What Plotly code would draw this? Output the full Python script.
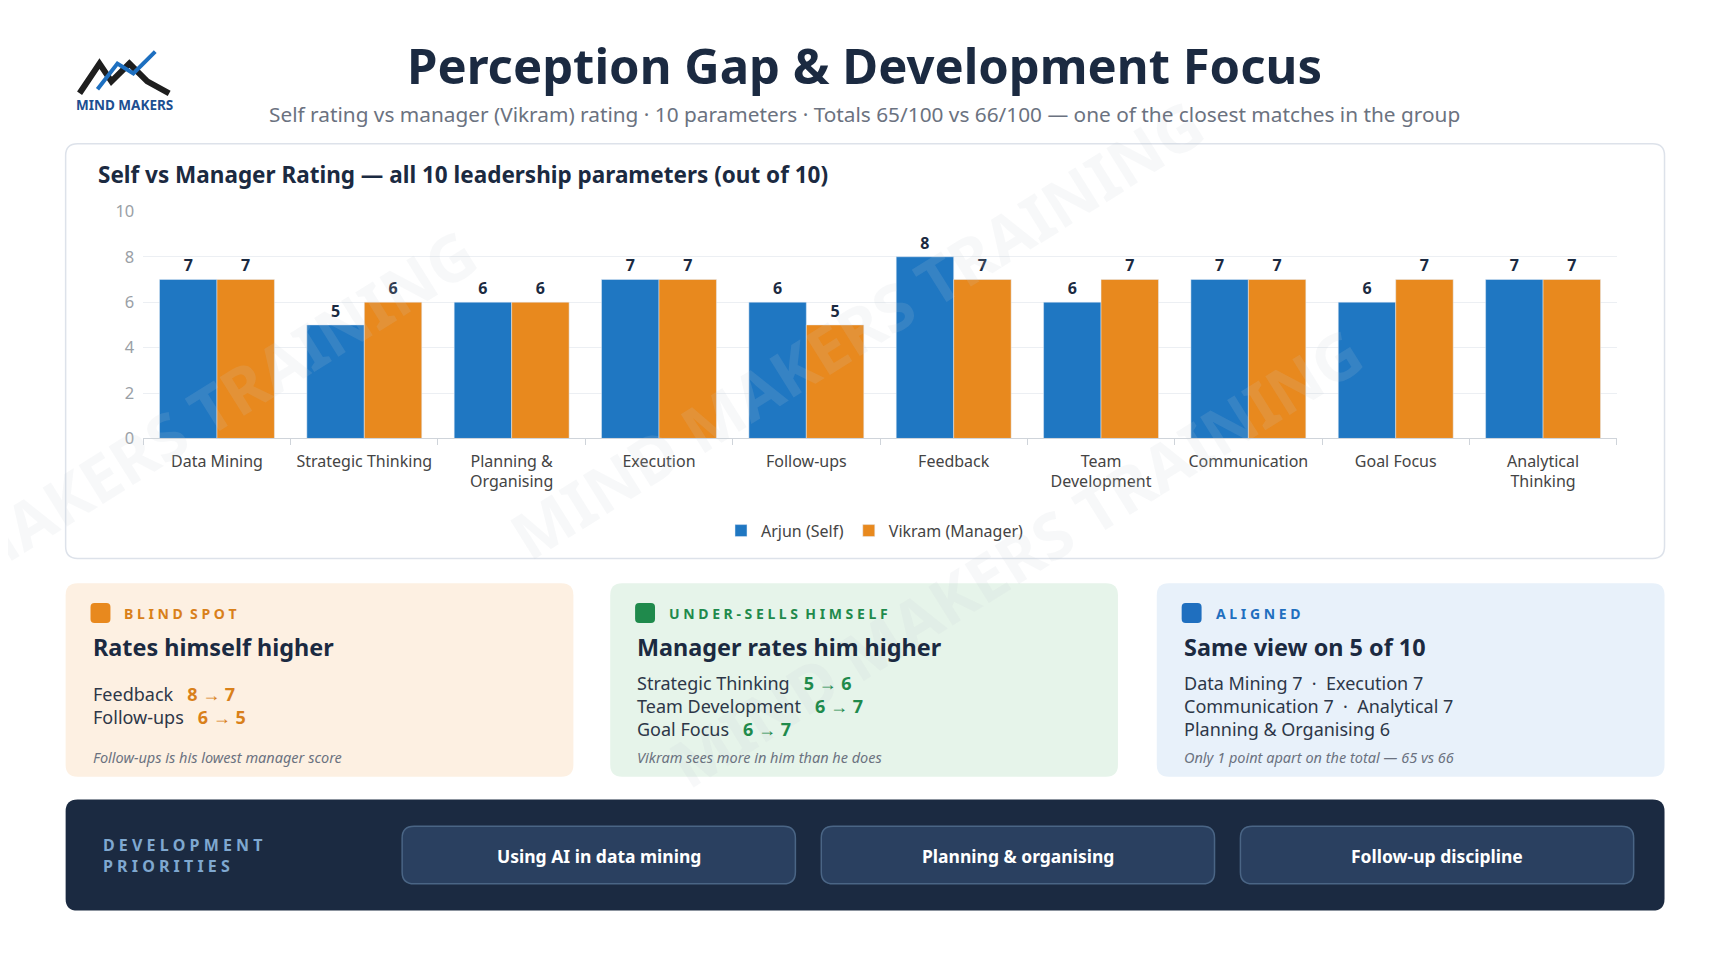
import plotly.graph_objects as go

categories = ["Data Mining", "Strategic Thinking", "Planning &<br>Organising", "Execution", "Follow-ups",
              "Feedback", "Team<br>Development", "Communication", "Goal Focus", "Analytical<br>Thinking"]
self_scores = [7, 5, 6, 7, 6, 8, 6, 7, 6, 7]
manager_scores = [7, 6, 6, 7, 5, 7, 7, 7, 7, 7]
y_ticks = [0, 2, 4, 6, 8, 10]
priorities = ["Using AI in data mining", "Planning & organising", "Follow-up discipline"]

W, H = 1734, 975
BLUE, ORANGE, NAVY = "#1f77c2", "#e8891e", "#1b2a41"
FONT = "Noto Sans"

def px(x): return ((0.9 * x - 7.3) / 0.904) / W
def py(y): return 1 - ((0.9 * y - 16.3) / 0.886) / H

fig = go.Figure()
fig.add_bar(x=categories, y=self_scores, name="Arjun (Self)", marker_color=BLUE,
            text=self_scores, textposition="outside", cliponaxis=False,
            textfont=dict(size=16, color=NAVY, family=FONT, weight="bold"))
fig.add_bar(x=categories, y=manager_scores, name="Vikram (Manager)", marker_color=ORANGE,
            text=manager_scores, textposition="outside", cliponaxis=False,
            textfont=dict(size=16, color=NAVY, family=FONT, weight="bold"))

shapes, ann = [], []

def rect(x0, y0, x1, y1, fill, line="rgba(0,0,0,0)", lw=0, layer="below", r=12):
    path = (f"M{px(x0+r)},{py(y0)} L{px(x1-r)},{py(y0)} Q{px(x1)},{py(y0)} {px(x1)},{py(y0+r)} "
            f"L{px(x1)},{py(y1-r)} Q{px(x1)},{py(y1)} {px(x1-r)},{py(y1)} L{px(x0+r)},{py(y1)} "
            f"Q{px(x0)},{py(y1)} {px(x0)},{py(y1-r)} L{px(x0)},{py(y0+r)} Q{px(x0)},{py(y0)} {px(x0+r)},{py(y0)} Z")
    shapes.append(dict(type="path", xref="paper", yref="paper", path=path, fillcolor=fill,
                       line=dict(color=line, width=lw), layer=layer))

def text(x, y, t, size, color, bold=False, italic=False, xanchor="left", angle=0):
    if italic: t = f"<i>{t}</i>"
    ann.append(dict(x=px(x), y=py(y), xref="paper", yref="paper", text=t, showarrow=False,
                    xanchor=xanchor, yanchor="middle", textangle=angle, align="left",
                    font=dict(size=size, color=color, family=FONT, weight="bold" if bold else "normal")))

# watermarks
for (x, y) in [(860, 330), (1020, 560), (130, 460)]:
    text(x, y, "MIND MAKERS TRAINING", 64, "rgba(200,205,212,0.14)", bold=True, xanchor="center", angle=-32)

# chart card
rect(66, 143, 1672, 561, "white", "#dde2ea", 1.5)
text(97, 174, "Self vs Manager Rating — all 10 leadership parameters (out of 10)", 22.5, NAVY, bold=True)

# header
text(868, 63, "Perception Gap & Development Focus", 49, NAVY, bold=True, xanchor="center")
text(868, 113, "Self rating vs manager (Vikram) rating · 10 parameters · Totals 65/100 vs 66/100 — one of the closest matches in the group",
     20.8, "#6b7280", xanchor="center")
# logo
shapes.append(dict(type="path", xref="paper", yref="paper",
                   path=f"M{px(80)},{py(92)} L{px(100)},{py(62)} L{px(112)},{py(80)} L{px(130)},{py(62)} L{px(148)},{py(80)} L{px(170)},{py(92)}",
                   line=dict(color="#1e1e1e", width=6)))
shapes.append(dict(type="path", xref="paper", yref="paper",
                   path=f"M{px(98)},{py(88)} L{px(118)},{py(62)} L{px(134)},{py(72)} L{px(156)},{py(50)}",
                   line=dict(color="#1d6fc0", width=4)))
text(125, 104, "MIND MAKERS", 13.5, "#1d4f91", bold=True, xanchor="center")

# insight cards
cards = [
    (66, "#fdf0e2", ORANGE, "#d9801a", "BLIND SPOT", "Rates himself higher",
     [("Feedback", "8 → 7"), ("Follow-ups", "6 → 5")], "Follow-ups is his lowest manager score", 698),
    (613, "#e6f4ea", "#1f8a4c", "#1f8a4c", "UNDER-SELLS HIMSELF", "Manager rates him higher",
     [("Strategic Thinking", "5 → 6"), ("Team Development", "6 → 7"), ("Goal Focus", "6 → 7")],
     "Vikram sees more in him than he does", 687),
    (1162, "#e8f1fa", "#1f6fbf", "#1f6fbf", "ALIGNED", "Same view on 5 of 10",
     [("Data Mining 7  ·  Execution 7", ""), ("Communication 7  ·  Analytical 7", ""), ("Planning & Organising 6", "")],
     "Only 1 point apart on the total — 65 vs 66", 687),
]
for x0, bg, sq, tc, tag, head, lines, foot, ly in cards:
    rect(x0, 586, x0 + 510, 781, bg)
    rect(x0 + 25, 606, x0 + 45, 626, sq, r=4)
    text(x0 + 57, 616, " ".join(tag).replace("   ", "  "), 14, tc, bold=True)
    text(x0 + 25, 650, head, 23.4, NAVY, bold=True)
    for i, (a, b) in enumerate(lines):
        t = a + (f"   <b><span style='color:{tc}'>{b}</span></b>" if b else "")
        text(x0 + 25, ly + i * 23, t, 18, "#2d3748")
    text(x0 + 25, 761, foot, 14.5, "#6b7280", italic=True)

# development band
rect(66, 804, 1672, 916, NAVY)
text(102, 860, "D E V E L O P M E N T<br>P R I O R I T I E S", 16, "#7fa8d0", bold=True)
for i, p in enumerate(priorities):
    x0 = 404 + i * 421
    rect(x0, 831, x0 + 395, 889, "#2a4060", "#4a6585", 1.5, layer="above")
    text(x0 + 197.5, 861, p, 17.5, "white", bold=True, xanchor="center")

fig.update_layout(
    width=W, height=H, margin=dict(l=0, r=0, t=0, b=0), paper_bgcolor="white", plot_bgcolor="white",
    barmode="group", bargap=0.22, bargroupgap=0, shapes=shapes, annotations=ann,
    font=dict(family=FONT, color="#444"),
    xaxis=dict(domain=[px(144), px(1624)], tickfont=dict(size=16, color="#444"), showline=True,
               linecolor="#cfd4da", ticks="outside", tickson="boundaries", ticklen=6, tickcolor="#cfd4da",
               ticklabelstandoff=8),
    yaxis=dict(domain=[py(440), py(211)], range=[0, 10], tickvals=y_ticks, gridcolor="#eceff3",
               tickfont=dict(size=16.5, color="#9aa0a6"), zeroline=False, ticklabelstandoff=8),
    legend=dict(orientation="h", x=0.5, xanchor="center", y=py(533), yanchor="middle",
                font=dict(size=16, color="#444"), itemwidth=30),
    showlegend=True,
)
fig.write_html("out.html")
